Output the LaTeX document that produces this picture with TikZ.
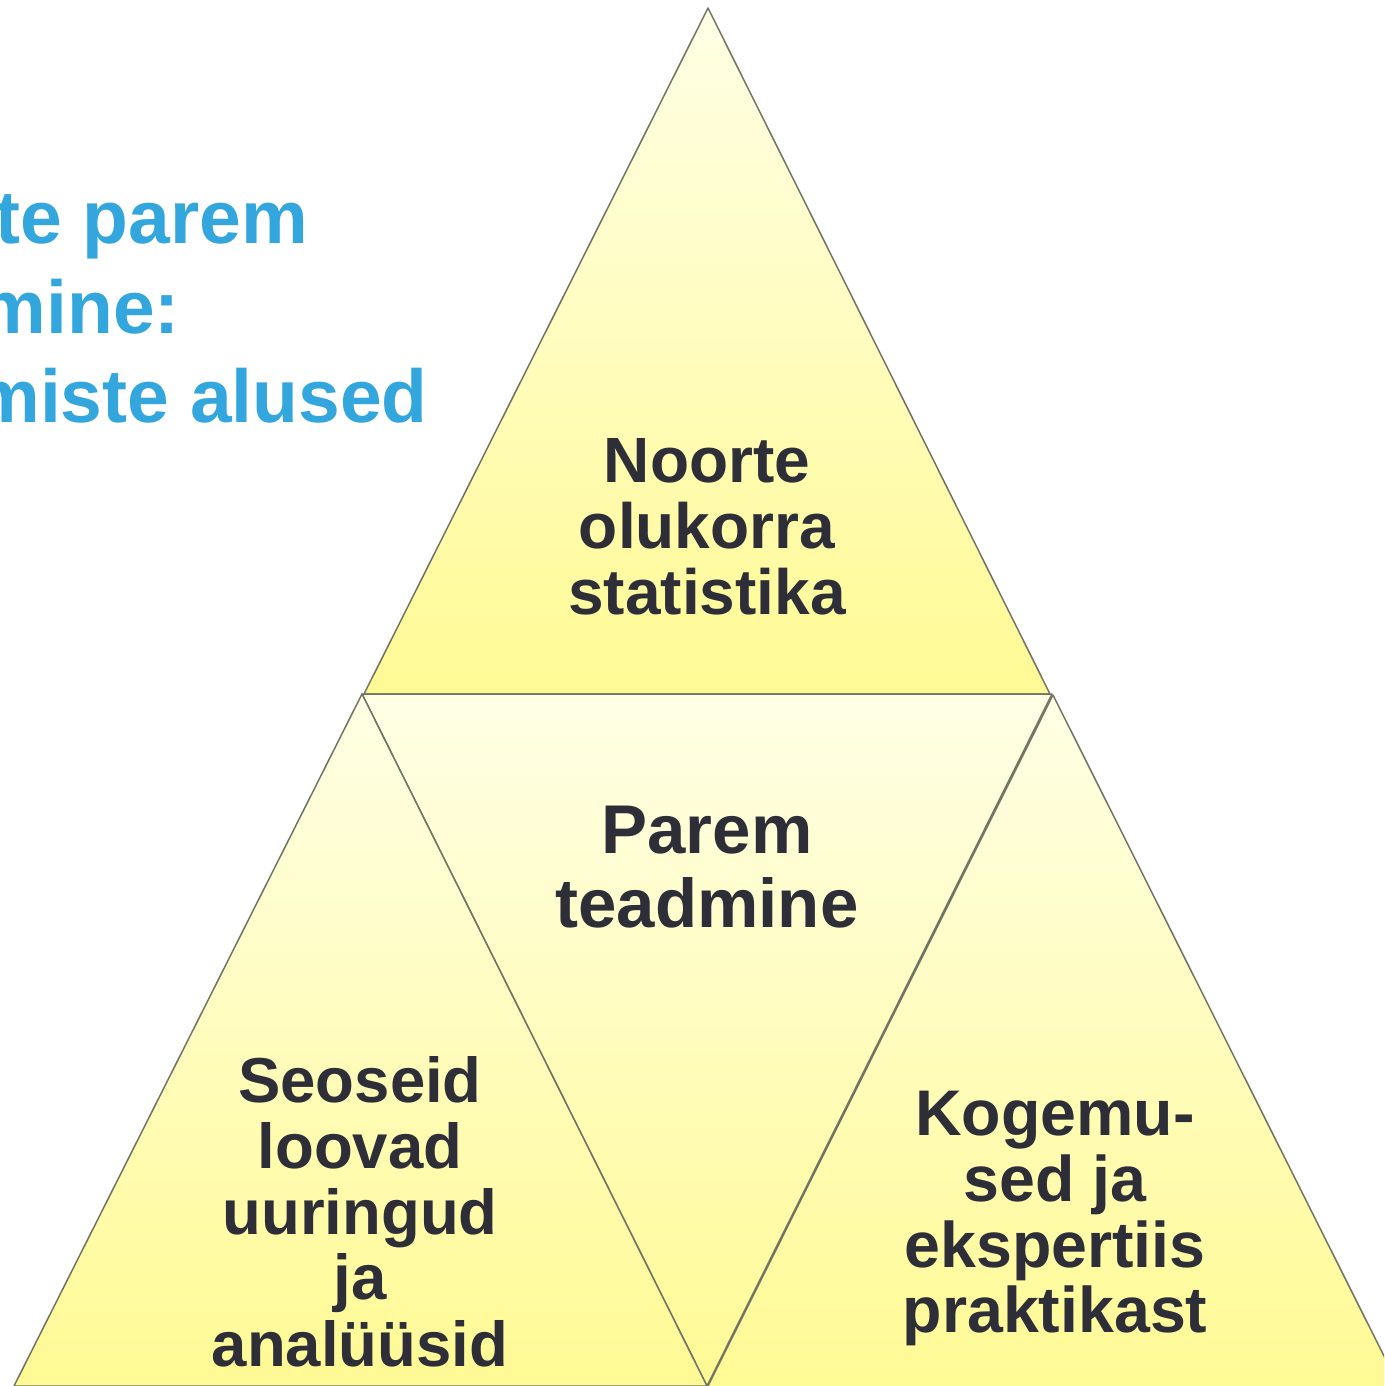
\documentclass[tikz,border=0pt]{standalone}
\usepackage{fontspec}
\setmainfont{Liberation Sans}
\definecolor{edgec}{RGB}{115,115,100}
\definecolor{topc}{RGB}{255,255,230}
\definecolor{botc}{RGB}{255,250,148}
\definecolor{txtc}{RGB}{46,46,56}
\definecolor{bluec}{RGB}{52,166,222}
\begin{document}
\begin{tikzpicture}[x=1pt,y=-1pt,
  tri/.style={draw=edgec, line width=1.5pt, line join=round, top color=topc, bottom color=botc},
  lbl/.style={font=\bfseries\fontsize{64}{66}\selectfont, text=txtc, inner sep=0pt, anchor=base},
  lblc/.style={font=\bfseries\fontsize{63.5}{66}\selectfont, text=txtc, inner sep=0pt, anchor=base},
  lbld/.style={font=\bfseries\fontsize{64.5}{66}\selectfont, text=txtc, inner sep=0pt, anchor=base},
  lblbig/.style={font=\bfseries\fontsize{69}{75}\selectfont, text=txtc, inner sep=0pt, anchor=base},
  ttl/.style={font=\bfseries\fontsize{75}{88}\selectfont, text=bluec, inner sep=0pt, anchor=base east}]
\useasboundingbox (0,0) rectangle (1384,1386);
\clip (0,0) rectangle (1384,1386);
% triangles
\path[tri] (708,8) -- (1050,694) -- (364,694) -- cycle;
\path[tri] (362,694) -- (1052,694) -- (707,1386) -- cycle;
\path[tri] (362,694) -- (707,1386) -- (14,1386) -- cycle;
\path[tri] (1053,695) -- (1400,1388) -- (707,1388) -- cycle;
% title (cut at left edge, as in the reference)
\node[ttl] (t1) at (308,243) {te parem};
\node[ttl] (t2) at (180,333) {mine:};
\node[ttl] (t3) at (428,422) {miste alused};
% top triangle
\node[lbl] (a1) at (707,482) {Noorte};
\node[lbl] (a2) at (707,548) {olukorra};
\node[lbl] (a3) at (707,614) {statistika};
% middle
\node[lblbig] (b1) at (707,853) {Parem};
\node[lblbig] (b2) at (707,927) {teadmine};
% bottom left
\node[lblc] (c1) at (360,1102) {Seoseid};
\node[lblc] (c2) at (360,1168) {loovad};
\node[lblc] (c3) at (360,1234) {uuringud};
\node[lblc] (c4) at (360,1299) {ja};
\node[lblc] (c5) at (360,1366) {analüüsid};
% bottom right
\node[lbld] (d1) at (1055,1135) {Kogemu-};
\node[lbld] (d2) at (1055,1201) {sed ja};
\node[lbld] (d3) at (1055,1267) {ekspertiis};
\node[lbld] (d4) at (1055,1332) {praktikast};
\end{tikzpicture}
\end{document}
